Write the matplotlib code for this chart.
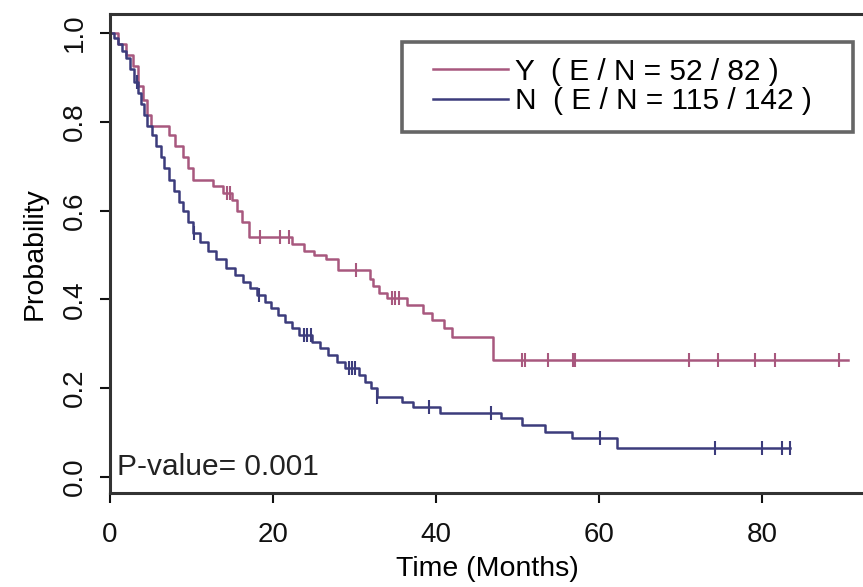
import numpy as np
import matplotlib
matplotlib.use('Agg')
import matplotlib.pyplot as plt
from matplotlib.patches import Rectangle

plt.rcParams['font.family'] = ['Liberation Sans', 'DejaVu Sans']

# Grupo Y: tiempos de evento y supervivencia tras cada salto
t_y = [0, 1.0, 2.0, 2.8, 3.4, 4.0, 4.6, 5.0, 7.2, 8.0, 9.0, 9.6, 10.2, 12.6, 13.9,
       15.0, 15.6, 16.2, 17.0, 22.3, 23.8, 25.0, 26.5, 28.0, 31.9, 32.3, 33.0, 34.0,
       36.4, 38.4, 39.5, 41.0, 42.0, 47.0, 90.5]
s_y = [1.0, 0.975, 0.95, 0.925, 0.88, 0.85, 0.815, 0.79, 0.77, 0.745, 0.72, 0.695, 0.67,
       0.655, 0.64, 0.625, 0.60, 0.575, 0.54, 0.525, 0.51, 0.50, 0.49, 0.466, 0.445, 0.43,
       0.415, 0.403, 0.387, 0.37, 0.354, 0.335, 0.315, 0.263, 0.263]
cens_y = [14.3, 14.7, 18.4, 20.9, 22.0, 30.2, 34.6, 35.0, 35.4, 50.5, 50.9, 53.7,
          56.8, 57.1, 71.0, 74.6, 79.1, 81.6, 89.4]

# Grupo N
t_n = [0, 0.5, 1.0, 1.5, 2.0, 2.5, 3.0, 3.4, 3.8, 4.2, 4.6, 5.2, 5.7, 6.2, 6.6, 7.2,
       7.8, 8.5, 9.0, 9.6, 10.2, 11.0, 12.0, 13.0, 14.2, 15.3, 16.3, 17.2, 18.0, 19.0,
       19.8, 20.6, 21.5, 22.3, 23.2, 24.8, 25.8, 26.8, 27.8, 28.8, 30.5, 31.3, 32.0,
       32.7, 35.8, 37.2, 40.5, 48.0, 50.5, 53.4, 56.7, 62.2, 83.4]
s_n = [1.0, 0.99, 0.975, 0.96, 0.945, 0.92, 0.89, 0.865, 0.84, 0.815, 0.79, 0.77,
       0.745, 0.72, 0.695, 0.67, 0.645, 0.62, 0.60, 0.575, 0.55, 0.53, 0.51, 0.49,
       0.47, 0.455, 0.44, 0.425, 0.41, 0.395, 0.38, 0.365, 0.35, 0.335, 0.32, 0.305,
       0.29, 0.275, 0.26, 0.245, 0.23, 0.215, 0.20, 0.18, 0.17, 0.158, 0.145, 0.133,
       0.117, 0.101, 0.088, 0.065, 0.065]
cens_n = [3.3, 10.3, 18.3, 23.8, 24.2, 24.6, 29.3, 29.7, 30.1, 32.8, 39.1, 46.8,
          60.1, 74.2, 80.0, 82.5, 83.4]

etiquetas = ['Y  ( E / N = 52 / 82 )', 'N  ( E / N = 115 / 142 )']
col_y = '#A8587E'
col_n = '#3C3C7C'


def valor_km(t, s, tc):
    # valor de la curva escalonada en los tiempos censurados
    idx = np.searchsorted(t, tc, side='right') - 1
    return np.array(s)[idx]


fig = plt.figure(figsize=(8.63, 5.87), dpi=100)
ax = fig.add_axes([110/863, 1-493/587, 754/863, 479/587])

ax.step(t_y, s_y, where='post', color=col_y, lw=1.8, label=etiquetas[0])
ax.step(t_n, s_n, where='post', color=col_n, lw=1.8, label=etiquetas[1])
ax.plot(cens_y, valor_km(t_y, s_y, cens_y), ls='none', marker='|', ms=10, mew=1.5, color=col_y)
ax.plot(cens_n, valor_km(t_n, s_n, cens_n), ls='none', marker='|', ms=10, mew=1.5, color=col_n)

ax.set_xlim(0, 92.5)
ax.set_ylim(-0.036, 1.043)
ax.set_xticks([0, 20, 40, 60, 80])
ax.set_yticks([0.0, 0.2, 0.4, 0.6, 0.8, 1.0])
ax.set_yticklabels(['0.0', '0.2', '0.4', '0.6', '0.8', '1.0'], rotation=90, va='center')
ax.tick_params(axis='both', direction='out', length=7, width=1.5, labelsize=20, colors='#111111')
ax.tick_params(axis='y', pad=9)
ax.tick_params(axis='x', pad=14)

for lado in ['left', 'bottom', 'top']:
    ax.spines[lado].set_linewidth(2.2)
    ax.spines[lado].set_color('#333333')
ax.spines['right'].set_visible(False)

ax.set_xlabel('Time (Months)', fontsize=20.5, labelpad=6)
ax.set_ylabel('Probability', fontsize=20.5, labelpad=10)

ax.text(0.9, -0.01, 'P-value= 0.001', fontsize=21.5, color='#222222', va='bottom')

# marco de la leyenda
ax.add_patch(Rectangle((0.3873, 0.7537), 0.598, 0.1878, transform=ax.transAxes,
                       fill=False, edgecolor='#666666', lw=2.6, zorder=5))
leg = ax.legend(loc='upper left', bbox_to_anchor=(0.4284, 0.909), borderaxespad=0,
                borderpad=0, fontsize=21.5, handlelength=2.5, handletextpad=0.25,
                labelspacing=0.05, frameon=False)

fig.savefig('out.png', dpi=100)
